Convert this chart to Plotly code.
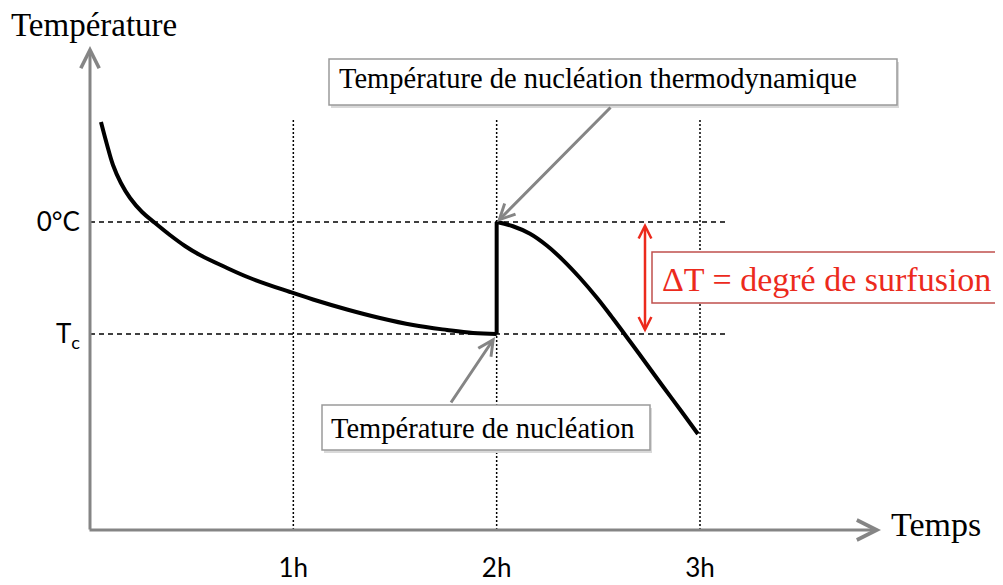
import plotly.graph_objects as go

# ---------------- data (time in hours, temperature in relative units: 0 = 0°C, -1 = Tc) -------------
time_cooling = [0.054, 0.084, 0.113, 0.152, 0.197, 0.256, 0.320, 0.393, 0.467, 0.541, 0.664, 0.787,
                0.984, 1.097, 1.264, 1.426, 1.589, 1.756, 1.884, 2.0]
temp_cooling = [0.893, 0.688, 0.509, 0.348, 0.214, 0.089, -0.009, -0.116, -0.214, -0.295, -0.402, -0.500,
                -0.625, -0.692, -0.781, -0.857, -0.920, -0.964, -0.991, -1.0]
time_jump = [2.0, 2.0]
temp_jump = [-1.0, 0.0]
time_freeze = [2.0, 2.08, 2.164, 2.248, 2.326, 2.41, 2.494, 2.572, 2.656, 2.739, 2.818, 2.902, 2.99]
temp_freeze = [0.0, -0.038, -0.105, -0.212, -0.340, -0.500, -0.679, -0.862, -1.067, -1.272, -1.469, -1.674, -1.893]

x_tick_vals = [1, 2, 3]
x_tick_text = ["1h", "2h", "3h"]
y_tick_vals = [0, -1]
y_tick_text = ["0°C", "T<sub>c</sub>"]

# ---------------- layout geometry ----------------
OFF = 8                      # page offset of the figure inside the browser window
W, H = 1003 - OFF, 585 - OFF
L = 90 - OFF                 # y axis at reference pixel 90
B = 54                       # plot bottom at reference pixel 531
PLOT_W, PLOT_H = W - L, H - B
PX_PER_H = 203.33
PX_PER_U = 112.0
Y0_PX = 222.0


def X(px):
    return (px - 90) / PX_PER_H


def Y(py):
    return (Y0_PX - py) / PX_PER_U


def PX(px):
    return (px - OFF - L) / PLOT_W


def PY(py):
    return (PLOT_H - (py - OFF)) / PLOT_H


serif = "Liberation Serif, Times New Roman, serif"
sans = "Lato, Carlito, Calibri, sans-serif"
gray = "#858585"
red = "#ec2a1c"

fig = go.Figure()
curve = dict(color="black", width=4)
fig.add_trace(go.Scatter(x=time_cooling, y=temp_cooling, mode="lines",
                         line=dict(shape="spline", smoothing=1.1, **curve), hoverinfo="skip"))
fig.add_trace(go.Scatter(x=time_jump, y=temp_jump, mode="lines", line=curve, hoverinfo="skip"))
fig.add_trace(go.Scatter(x=time_freeze, y=temp_freeze, mode="lines",
                         line=dict(shape="spline", smoothing=1.1, **curve), hoverinfo="skip"))

shapes = []
# vertical dotted guides
for v in x_tick_vals:
    shapes.append(dict(type="line", xref="x", yref="y", x0=v, x1=v, y0=Y(530), y1=Y(120),
                       line=dict(color="black", width=1.5, dash="2px,2px"), layer="below"))
# horizontal dashed guides
for v in y_tick_vals:
    shapes.append(dict(type="line", xref="x", yref="y", x0=0, x1=X(729), y0=v, y1=v,
                       line=dict(color="black", width=1.3, dash="5px,4px"), layer="below"))


def box(x0, y0, x1, y1, border, shadow=True):
    out = []
    if shadow:
        out.append(dict(type="rect", xref="paper", yref="paper", x0=PX(x0 + 2), x1=PX(x1 + 2),
                        y0=PY(y0 + 3), y1=PY(y1 + 3), fillcolor="#d9d9d9", line=dict(width=0)))
    out.append(dict(type="rect", xref="paper", yref="paper", x0=PX(x0), x1=PX(x1),
                    y0=PY(y0), y1=PY(y1), fillcolor="white", line=dict(color=border, width=1.5)))
    return out


shapes += box(329, 59, 897, 105, "#9a9a9a")
shapes += box(322, 405, 650, 450, "#9a9a9a")
shapes += box(652, 252, 1010, 303, "#c0504d", shadow=False)

annotations = []
# axes with arrow heads
annotations.append(dict(x=X(881), y=Y(530), ax=X(88), ay=Y(530), xref="x", yref="y", axref="x", ayref="y",
                        text="", showarrow=True, arrowhead=5, arrowsize=1.3, arrowwidth=3, arrowcolor=gray))
annotations.append(dict(x=X(90), y=Y(46), ax=X(90), ay=Y(531), xref="x", yref="y", axref="x", ayref="y",
                        text="", showarrow=True, arrowhead=5, arrowsize=1.2, arrowwidth=3, arrowcolor=gray))
# callout arrows
annotations.append(dict(x=X(497), y=Y(222), ax=X(612), ay=Y(106), xref="x", yref="y", axref="x", ayref="y",
                        text="", showarrow=True, arrowhead=5, arrowsize=1.0, arrowwidth=3, arrowcolor=gray))
annotations.append(dict(x=X(495), y=Y(337), ax=X(450), ay=Y(404), xref="x", yref="y", axref="x", ayref="y",
                        text="", showarrow=True, arrowhead=5, arrowsize=1.0, arrowwidth=3, arrowcolor=gray))
# ΔT double arrow
annotations.append(dict(x=X(645), y=Y(223), ax=X(645), ay=Y(334), xref="x", yref="y", axref="x", ayref="y",
                        text="", showarrow=True, arrowhead=5, arrowsize=1.0, arrowwidth=2.5,
                        arrowside="end+start", startarrowhead=5, startarrowsize=1.0, arrowcolor=red))


def label(txt, px, py, size, font, color="black", xanchor="left"):
    return dict(text=txt, x=PX(px), y=PY(py), xref="paper", yref="paper", showarrow=False,
                xanchor=xanchor, yanchor="middle", borderpad=0,
                font=dict(family=font, size=size, color=color))


annotations.append(label("Température", 10, 25, 33, serif))
annotations.append(label("Temps", 890, 524, 34, serif))
annotations.append(label("Température de nucléation thermodynamique", 338, 78, 28.5, serif))
annotations.append(label("Température de nucléation", 330, 428, 28.5, serif))
annotations.append(label("ΔT = degré de surfusion", 661, 279, 34, serif, color=red))

fig.update_layout(
    width=W, height=H,
    margin=dict(l=L, r=0, t=0, b=B, pad=0),
    paper_bgcolor="white", plot_bgcolor="white",
    showlegend=False,
    shapes=shapes, annotations=annotations,
    xaxis=dict(range=[X(90), X(1003)], showgrid=False, zeroline=False, showline=False,
               tickmode="array", tickvals=x_tick_vals, ticktext=x_tick_text, ticks="",
               ticklabelstandoff=19, tickfont=dict(family=sans, size=26, color="black"), fixedrange=True),
    yaxis=dict(range=[Y(531), Y(OFF)], showgrid=False, zeroline=False, showline=False,
               tickmode="array", tickvals=y_tick_vals, ticktext=y_tick_text, ticks="",
               ticklabelstandoff=9, tickfont=dict(family=sans, size=26, color="black"), fixedrange=True),
)

fig.write_html("out.html")
